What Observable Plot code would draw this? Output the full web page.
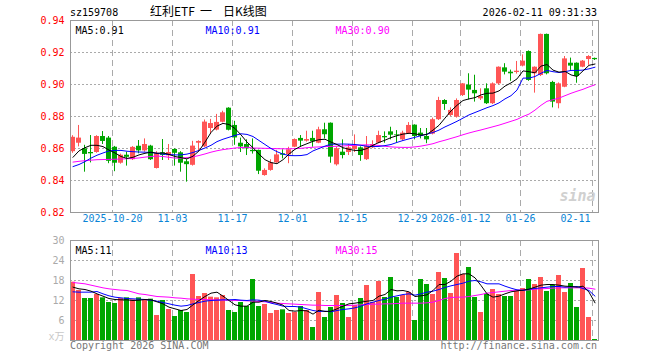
<!DOCTYPE html>
<html><head><meta charset="utf-8">
<script src="https://cdn.jsdelivr.net/npm/d3@7"></script>
<script src="https://cdn.jsdelivr.net/npm/@observablehq/plot@0.6"></script>
<style>
body{margin:0;background:#fff;}
#wrap{position:relative;width:660px;height:360px;overflow:hidden;background:#fff;font-family:"DejaVu Sans Mono","Noto Sans CJK SC",monospace;}
.t{position:absolute;white-space:nowrap;font-size:10px;line-height:10px;color:#000;z-index:5;}
.h{font-size:12px;line-height:12px;font-family:'Noto Sans CJK SC';top:5px;}
#p1,#p2{position:absolute;left:0;z-index:1;}
</style></head><body>
<div id="wrap">
<div id="p1" style="top:0"></div>
<div id="p2" style="top:232px"></div>
<div class="t" style="left:70px;top:8px">sz159708</div>
<div class="t h" style="left:150px">红利ETF</div>
<div class="t h" style="left:200px">一</div>
<div class="t h" style="left:223px">日K线图</div>
<div class="t" style="right:63px;top:8px">2026-02-11 09:31:33</div>
<div class="t" style="left:70px;top:341px;color:#777">Copyright 2026 SINA.COM</div>
<div class="t" style="right:63px;top:341px;color:#777">http://finance.sina.com.cn</div>
</div>
<script>
const dates = [
"2025-10-09","2025-10-10","2025-10-13","2025-10-14","2025-10-15","2025-10-16","2025-10-17",
"2025-10-20","2025-10-21","2025-10-22","2025-10-23","2025-10-24","2025-10-27","2025-10-28","2025-10-29","2025-10-30","2025-10-31",
"2025-11-03","2025-11-04","2025-11-05","2025-11-06","2025-11-07","2025-11-10","2025-11-11","2025-11-12","2025-11-13","2025-11-14",
"2025-11-17","2025-11-18","2025-11-19","2025-11-20","2025-11-21","2025-11-24","2025-11-25","2025-11-26","2025-11-27","2025-11-28",
"2025-12-01","2025-12-02","2025-12-03","2025-12-04","2025-12-05","2025-12-08","2025-12-09","2025-12-10","2025-12-11","2025-12-12",
"2025-12-15","2025-12-16","2025-12-17","2025-12-18","2025-12-19","2025-12-22","2025-12-23","2025-12-24","2025-12-25","2025-12-26",
"2025-12-29","2025-12-30","2025-12-31","2026-01-05","2026-01-06","2026-01-07","2026-01-08","2026-01-09",
"2026-01-12","2026-01-13","2026-01-14","2026-01-15","2026-01-16","2026-01-19","2026-01-20","2026-01-21","2026-01-22","2026-01-23",
"2026-01-26","2026-01-27","2026-01-28","2026-01-29","2026-01-30","2026-02-02","2026-02-03","2026-02-04","2026-02-05","2026-02-06",
"2026-02-09","2026-02-10","2026-02-11"];

const open = [0.858,0.8633,0.8598,0.8575,0.8575,0.8675,0.8665,0.8608,0.8508,0.8558,
0.853,0.8614,0.8585,0.8615,0.8475,0.8573,0.8554,0.8594,0.8573,0.8517,
0.8495,0.8633,0.861,0.8725,0.8715,0.8764,0.8852,0.8744,0.8633,0.8625,
0.8588,0.8588,0.8431,0.8463,0.851,0.8567,0.856,0.8608,0.8663,0.8646,
0.8663,0.8633,0.8717,0.8758,0.8498,0.8577,0.8575,0.8594,0.8604,0.853,
0.8604,0.8633,0.8675,0.8704,0.8685,0.8654,0.8692,0.8746,0.8696,0.8675,
0.869,0.878,0.890,0.8806,0.8796,0.8931,0.8996,0.8963,0.891,0.8973,
0.888,0.9004,0.9104,0.9077,0.9075,0.9115,0.9206,0.9067,0.9056,0.9313,
0.9013,0.888,0.8983,0.9133,0.9133,0.9108,0.9156,0.9163];
const high = [0.868,0.8744,0.862,0.8681,0.868,0.8706,0.8675,0.8613,0.8565,0.8577,
0.8612,0.865,0.866,0.862,0.858,0.8656,0.8625,0.8598,0.858,0.853,
0.8645,0.8648,0.8778,0.8782,0.8813,0.8833,0.8855,0.877,0.8665,0.8654,
0.866,0.859,0.8473,0.853,0.8588,0.8592,0.8608,0.866,0.8681,0.8708,
0.8708,0.8733,0.8758,0.876,0.8608,0.8654,0.8625,0.8685,0.861,0.8675,
0.8648,0.8708,0.8704,0.8733,0.8712,0.8708,0.8762,0.8748,0.8725,0.8725,
0.879,0.892,0.8905,0.8854,0.891,0.9006,0.9067,0.9058,0.8973,0.9004,
0.901,0.911,0.913,0.909,0.9144,0.9185,0.921,0.911,0.9315,0.9315,
0.902,0.901,0.9175,0.9165,0.9135,0.915,0.918,0.9165];
const low = [0.857,0.861,0.8452,0.851,0.857,0.8625,0.8505,0.8455,0.8502,0.849,
0.8525,0.8567,0.8577,0.8525,0.8472,0.8525,0.8525,0.849,0.8452,0.839,
0.849,0.8583,0.8605,0.869,0.871,0.876,0.871,0.862,0.8575,0.8556,
0.8565,0.8437,0.8427,0.8458,0.8508,0.8535,0.8505,0.8605,0.8608,0.864,
0.8608,0.863,0.866,0.8508,0.849,0.8535,0.8556,0.8575,0.852,0.8525,
0.860,0.863,0.8633,0.8654,0.8633,0.8646,0.869,0.8654,0.866,0.863,
0.8685,0.8775,0.8838,0.880,0.879,0.8925,0.8904,0.889,0.890,0.8875,
0.8875,0.8996,0.906,0.902,0.9065,0.911,0.902,0.8946,0.905,0.906,
0.8854,0.8848,0.898,0.9088,0.9008,0.9105,0.912,0.915];
const close = [0.867,0.8665,0.8563,0.8567,0.8675,0.8644,0.852,0.8508,0.8558,0.8545,
0.8607,0.8585,0.8625,0.853,0.857,0.8557,0.8575,0.857,0.8508,0.8499,
0.8615,0.8644,0.8765,0.8756,0.8763,0.8823,0.8714,0.8666,0.861,0.8598,
0.858,0.8458,0.8463,0.851,0.856,0.8558,0.8592,0.8656,0.8646,0.8656,
0.8642,0.8717,0.8686,0.8546,0.8598,0.8556,0.8604,0.8615,0.8556,0.8615,
0.8625,0.8681,0.8667,0.8683,0.868,0.8696,0.8744,0.8675,0.8677,0.8654,
0.878,0.890,0.8875,0.8838,0.890,0.9004,0.8965,0.8942,0.8925,0.888,
0.9004,0.9108,0.9077,0.9067,0.9083,0.9146,0.9025,0.9108,0.9313,0.9067,
0.889,0.9004,0.916,0.9115,0.905,0.9146,0.9175,0.9155];

const ma5 = [0.8545,0.8585,0.8605,0.862,0.862,0.8612,0.859,0.8572,0.855,0.8538,
0.8545,0.856,0.857,0.8577,0.857,0.8573,0.8563,0.855,0.8543,0.8535,
0.8552,0.8585,0.864,0.870,0.874,0.8757,0.875,0.8725,0.8685,0.864,
0.8605,0.8565,0.853,0.8512,0.8505,0.853,0.8565,0.8595,0.8615,0.863,
0.8645,0.8655,0.8658,0.864,0.8625,0.8605,0.8595,0.8588,0.8588,0.860,
0.862,0.8638,0.8652,0.8668,0.868,0.869,0.8695,0.8692,0.8683,0.8688,
0.8715,0.8745,0.879,0.8835,0.887,0.890,0.891,0.8918,0.8935,0.8945,
0.8946,0.896,0.899,0.901,0.9035,0.9085,0.908,0.9073,0.9115,0.9125,
0.909,0.9077,0.9082,0.906,0.905,0.9085,0.912,0.9128];
const ma10 = [0.8487,0.850,0.8518,0.854,0.8558,0.8572,0.8585,0.8588,0.8588,0.8583,
0.858,0.8578,0.8577,0.8575,0.857,0.8565,0.8562,0.856,0.856,0.8565,
0.8575,0.8588,0.8603,0.862,0.8643,0.8658,0.867,0.8682,0.8692,0.8688,
0.8675,0.865,0.8625,0.860,0.858,0.8565,0.8556,0.8555,0.8556,0.8562,
0.8585,0.860,0.8615,0.8627,0.8627,0.8628,0.8627,0.8625,0.862,0.8614,
0.8612,0.8613,0.8618,0.8625,0.8638,0.865,0.866,0.867,0.868,0.869,
0.870,0.8715,0.8735,0.8752,0.877,0.879,0.881,0.8825,0.884,0.8855,
0.8868,0.8885,0.891,0.893,0.8965,0.904,0.904,0.905,0.907,0.9088,
0.908,0.9075,0.908,0.9088,0.9088,0.909,0.9098,0.9108];
const ma30 = [0.8515,0.852,0.8524,0.8527,0.853,0.8531,0.8532,0.8533,0.8534,0.8536,
0.8538,0.8541,0.8546,0.855,0.8553,0.855,0.8545,0.854,0.854,0.8543,
0.8548,0.8556,0.8566,0.8577,0.8586,0.8593,0.8598,0.8603,0.8606,0.8608,
0.8603,0.8602,0.8601,0.860,0.8599,0.8598,0.8598,0.8599,0.8601,0.8605,
0.8608,0.861,0.8612,0.8613,0.8614,0.8616,0.8618,0.862,0.8622,0.8623,
0.8622,0.8619,0.8614,0.861,0.8608,0.8607,0.8607,0.861,0.8615,0.8622,
0.863,0.8642,0.8652,0.8663,0.8674,0.8686,0.8697,0.8707,0.8716,0.8726,
0.8736,0.8746,0.8758,0.877,0.8782,0.880,0.8815,0.884,0.887,0.8895,
0.8905,0.8915,0.893,0.8945,0.8958,0.897,0.8985,0.8998];

// volume, 10k shares
const vol = [17.5,15.0,12.6,12.6,13.8,12.8,11.4,11.1,12.6,12.8,
12.2,12.8,12.2,12.4,7.5,12.0,9.3,7.2,9.0,8.4,
19.8,13.2,14.1,13.0,12.8,13.5,9.0,8.4,11.4,10.2,
18.3,10.2,10.8,8.1,9.0,9.2,8.1,8.4,10.2,9.0,
3.9,14.4,6.9,9.9,13.5,11.1,6.9,10.5,12.6,16.5,
11.4,17.7,12.9,18.9,12.9,13.5,14.4,6.0,18.3,16.8,
13.8,20.4,18.6,14.1,26.1,19.8,21.9,12.9,8.4,13.8,
15.3,13.8,13.2,13.2,14.7,15.6,18.3,16.8,18.9,14.7,
16.5,19.5,14.4,17.1,9.9,21.6,6.9,0.3];
const vma5 = [16.0,15.5,15.3,14.8,14.0,13.3,12.6,12.3,12.2,12.2,
12.0,12.1,12.3,12.2,11.6,11.0,10.0,9.5,9.0,9.3,
10.7,12.0,13.2,14.2,14.5,13.3,12.0,10.7,10.3,10.3,
11.5,11.5,12.0,11.7,11.2,10.6,9.0,8.8,9.0,8.9,
7.9,9.1,8.7,8.8,9.5,10.3,11.0,11.2,11.5,11.8,
12.0,13.3,13.8,15.3,14.9,15.0,14.6,13.2,13.4,13.7,
15.0,16.8,16.8,17.8,19.3,20.0,20.0,18.8,16.5,14.0,
13.0,13.3,14.0,14.6,14.9,15.1,15.4,16.0,16.6,16.8,
16.8,16.6,16.3,16.2,16.0,16.3,14.5,11.3];
const vma10 = [14.6,14.5,14.5,14.5,14.7,14.0,13.4,13.0,12.8,12.6,
12.5,12.4,12.3,12.1,11.8,11.4,11.0,10.6,10.3,10.5,
11.0,11.4,11.8,12.0,12.1,12.2,12.2,12.3,12.1,12.0,
12.2,12.1,11.8,11.2,10.8,10.3,10.2,10.2,10.0,9.5,
9.0,8.7,8.8,8.6,9.0,9.3,9.5,9.8,10.3,11.0,
11.5,12.0,12.4,13.0,13.4,13.8,14.0,13.6,14.0,14.5,
14.8,15.3,15.9,16.4,16.8,17.2,17.8,18.0,17.6,17.0,
17.0,17.0,16.3,15.7,15.2,15.0,15.4,15.6,15.8,16.0,
16.2,16.2,16.0,16.1,16.2,15.6,15.0,13.3];
const vma30 = [17.4,17.2,17.0,16.6,16.2,15.8,15.5,15.3,15.1,15.0,
14.5,14.0,13.8,13.5,13.2,13.1,13.0,12.8,12.7,12.5,
12.4,12.3,12.3,12.2,12.2,12.1,12.1,12.0,12.0,11.9,
11.8,11.7,11.6,11.4,11.2,11.1,11.0,10.9,10.8,10.7,
10.6,10.6,10.5,10.5,10.5,10.5,10.5,10.6,10.7,10.8,
10.9,10.9,11.0,11.0,11.1,11.2,11.2,11.2,11.2,11.3,
11.5,12.0,12.6,12.9,13.0,13.0,13.2,13.5,13.8,14.2,
14.4,14.6,14.8,15.0,15.1,15.2,15.2,15.4,15.5,15.6,
15.7,15.8,15.8,15.8,15.8,15.8,15.7,15.4];

const tickDates = ["2025-10-20","2025-11-03","2025-11-17","2025-12-01","2025-12-15","2025-12-29","2026-01-12","2026-01-26","2026-02-11"];
const tickText = ["2025-10-20","11-03","11-17","12-01","12-15","12-29","2026-01-12","01-26","02-11"];
const priceTicks = [0.94,0.92,0.90,0.88,0.86,0.84,0.82];
const volTicks = [30,24,18,12,6];

const RED = "#ff5555", GREEN = "#00a600", MA5C = "#000000", MA10C = "#0000ff", MA30C = "#ff00ff";
const FONT = "'DejaVu Sans Mono','Noto Sans CJK SC',monospace";
const N = dates.length;
const idx = d3.range(N);
const tickIdx = tickDates.map(d => dates.indexOf(d));
const candles = idx.map(i => ({i, o: open[i], h: high[i], l: low[i], c: close[i], v: vol[i]}));
const col = d => d.c >= d.o ? RED : GREEN;
const BW = 5/6, CX = 2/6, LX = 2.5/6;
const lineOf = (arr, color) => Plot.line(idx, {x: i => i + LX, y: i => arr[i], stroke: color, strokeWidth: 1});

const common = {
  width: 660, marginLeft: 70, marginRight: 62,
  x: {domain: [0, N], axis: null},
  color: {type: "identity"},
  style: {fontFamily: FONT, fontSize: "10px", background: "transparent", overflow: "visible"}
};

const p1 = Plot.plot({
  ...common,
  height: 232, marginTop: 20, marginBottom: 20,
  y: {domain: [0.82, 0.94], axis: null},
  marks: [
    Plot.ruleY(priceTicks.slice(1, -1), {stroke: "#aaa", strokeDasharray: "2,2"}),
    Plot.ruleX(tickIdx, {x: d => d, stroke: "#aaa", strokeDasharray: "6,4"}),
    Plot.text(["sina"], {frameAnchor: "bottom-right", dx: -3, dy: -12, fill: "#d0d0d0", fontSize: 15, fontWeight: "bold", fontStyle: "italic", textAnchor: "end"}),
    Plot.ruleX(candles, {x: d => d.i + CX, y1: "l", y2: "h", stroke: col, strokeWidth: 1}),
    Plot.rect(candles, {x1: d => d.i, x2: d => d.i + BW, y1: "o", y2: "c", fill: col}),
    lineOf(ma30, MA30C), lineOf(ma10, MA10C), lineOf(ma5, MA5C),
    Plot.frame({stroke: "#999"}),
    Plot.text(priceTicks, {y: d => d, text: d => d.toFixed(2), frameAnchor: "left", dx: -6, textAnchor: "end", fill: "#ff0000", fontSize: 10}),
    Plot.text(tickIdx.slice(0, -1), {x: d => d, text: (d, k) => tickText[k], frameAnchor: "bottom", dy: 9, fill: "#0a84d6", fontSize: 10}),
    Plot.text(tickIdx.slice(-1), {x: d => d, text: () => tickText[tickText.length - 1], frameAnchor: "bottom", dy: 9, dx: -2, textAnchor: "end", fill: "#0a84d6", fontSize: 10}),
    Plot.text([`MA5:${ma5[N-1].toFixed(2)}`], {frameAnchor: "top-left", dx: 5, dy: 6, textAnchor: "start", fill: MA5C, fontSize: 10}),
    Plot.text([`MA10:${ma10[N-1].toFixed(2)}`], {frameAnchor: "top-left", dx: 135, dy: 6, textAnchor: "start", fill: MA10C, fontSize: 10}),
    Plot.text([`MA30:${ma30[N-1].toFixed(2)}`], {frameAnchor: "top-left", dx: 265, dy: 6, textAnchor: "start", fill: MA30C, fontSize: 10})
  ]
});
document.getElementById("p1").append(p1);

const p2 = Plot.plot({
  ...common,
  height: 128, marginTop: 8, marginBottom: 20,
  y: {domain: [0, 30], axis: null},
  marks: [
    Plot.ruleY(volTicks.slice(1), {stroke: "#aaa", strokeDasharray: "2,2"}),
    Plot.ruleX(tickIdx, {x: d => d, stroke: "#aaa", strokeDasharray: "6,4"}),
    Plot.rect(candles, {x1: d => d.i, x2: d => d.i + BW, y1: 0, y2: "v", fill: col}),
    lineOf(vma30, MA30C), lineOf(vma10, MA10C), lineOf(vma5, MA5C),
    Plot.frame({stroke: "#999"}),
    Plot.text(volTicks, {y: d => d, text: d => String(d), frameAnchor: "left", dx: -6, textAnchor: "end", fill: "#aaa", fontSize: 10}),
    Plot.text(["x万"], {frameAnchor: "bottom-left", dx: -6, dy: -1, textAnchor: "end", fill: "#c8c8c8", fontSize: 10}),
    Plot.text([`MA5:${Math.round(vma5[N-1])}`], {frameAnchor: "top-left", dx: 5, dy: 6, textAnchor: "start", fill: MA5C, fontSize: 10}),
    Plot.text([`MA10:${Math.round(vma10[N-1])}`], {frameAnchor: "top-left", dx: 135, dy: 6, textAnchor: "start", fill: MA10C, fontSize: 10}),
    Plot.text([`MA30:${Math.round(vma30[N-1])}`], {frameAnchor: "top-left", dx: 265, dy: 6, textAnchor: "start", fill: MA30C, fontSize: 10})
  ]
});
document.getElementById("p2").append(p2);
</script>
</body></html>
